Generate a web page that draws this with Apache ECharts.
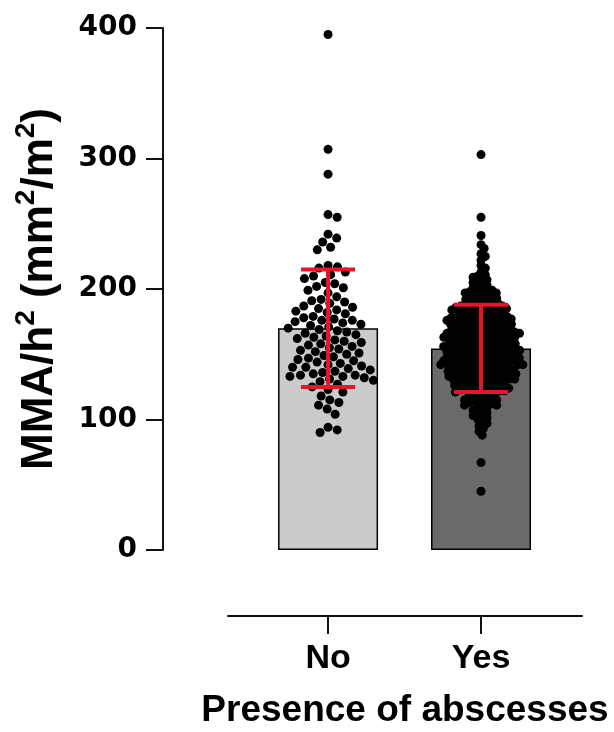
<!DOCTYPE html>
<html lang="en">
<head>
<meta charset="UTF-8">
<title>MMA/h2 by presence of abscesses</title>
<script src="https://cdn.jsdelivr.net/npm/echarts@6/dist/echarts.min.js"></script>
<style>html,body{margin:0;padding:0;background:#fff;}</style>
</head>
<body>
<div id="main" style="width:614px;height:732px;"></div>
<script>
// values
var categories = ['No', 'Yes'];
var barMeans = [170, 154.5];
var barSD = [45, 33.5];
var barColors = ['#cbcbcb', '#6a6a6a'];

var noValues = [
    395, 307, 288, 257, 255, 242, 239, 236, 232, 230,
    218, 217, 216, 213, 211, 210,
    208, 205, 204, 202, 201,
    199, 197, 194, 192, 191, 190,
    189, 187, 186, 185, 184, 183, 182, 181,
    179, 178, 177, 176, 176, 175, 174, 173, 172, 171, 170,
    169, 168, 167, 166, 165, 164, 163, 162, 161, 160,
    159, 158, 157, 156, 155, 154, 153, 152, 151, 150,
    149, 148, 147, 146, 145, 144, 143, 142, 141, 140, 140,
    139, 138, 137, 136, 135, 134, 134, 133, 133, 132, 131, 130,
    129, 127, 125, 123, 121,
    118, 115, 113, 111,
    108, 104,
    94, 92, 90
];

var yesValues = [
    303, 255, 241, 234, 231, 227, 225, 222, 218, 216, 213, 211, 210,
    209, 208, 207, 206, 205, 204, 203, 202, 201, 200,
    199, 199, 198, 198, 197, 197, 196, 195, 195, 194, 194, 193, 193, 192, 192, 191, 191, 190,
    189, 189, 189, 188, 188, 187, 187, 187, 186, 186, 186, 185, 185, 185, 184, 184, 183, 183, 183,
    182, 182, 181, 181, 181, 180, 180,
    179, 179, 179, 179, 178, 178, 178, 177, 177, 177, 177, 176, 176, 176, 175, 175, 175, 175,
    174, 174, 174, 173, 173, 173, 173, 172, 172, 172, 171, 171, 171, 170, 170, 170,
    169, 169, 169, 169, 168, 168, 168, 168, 167, 167, 167, 167, 166, 166, 166, 166,
    165, 165, 165, 165, 164, 164, 164, 164, 163, 163, 163, 163, 162, 162, 162, 162,
    161, 161, 161, 160, 160, 160,
    159, 159, 159, 159, 158, 158, 158, 158, 157, 157, 157, 157, 156, 156, 156, 156,
    155, 155, 155, 155, 154, 154, 154, 154, 153, 153, 153, 153, 152, 152, 152, 152,
    151, 151, 151, 151, 150, 150, 150, 150,
    149, 149, 149, 149, 148, 148, 148, 148, 147, 147, 147, 147, 146, 146, 146, 146,
    145, 145, 145, 145, 145, 144, 144, 144, 144, 143, 143, 143, 143,
    142, 142, 142, 142, 142, 141, 141, 141, 141, 140, 140, 140, 140,
    139, 139, 139, 138, 138, 138, 138, 137, 137, 137, 136, 136, 136, 136,
    135, 135, 135, 135, 134, 134, 134, 134, 133, 133, 133, 132, 132, 132, 132,
    131, 131, 131, 131, 130, 130, 130,
    129, 129, 128, 128, 128, 127, 127, 127, 126, 126, 126, 125, 125, 125,
    124, 124, 124, 123, 123, 123, 122, 122, 122, 121, 121, 121, 120, 120,
    119, 118, 118, 117, 117, 116, 116, 115, 115, 114, 114, 113, 113, 112, 112, 111, 111, 110,
    109, 108, 107, 106, 105, 104, 103, 102, 101, 100,
    98, 97, 95, 93, 91,
    88, 67, 45
];

var FONT = '"Liberation Sans", Arial, sans-serif';
var RED = '#e8142b';
var INK = '#111';

var chart = echarts.init(document.getElementById('main'));

var option = {
    animation: false,
    backgroundColor: '#fff',
    grid: {left: 228, right: 32, top: 28, bottom: 182, outerBoundsMode: 'none'},
    xAxis: {
        type: 'value',
        min: 0.346,
        max: 2.66,
        offset: 66,
        splitLine: {show: false},
        axisLine: {show: true, onZero: false, lineStyle: {color: INK, width: 2}},
        axisTick: {show: true, customValues: [1, 2], length: 18, lineStyle: {color: INK, width: 2}},
        axisLabel: {
            customValues: [1, 2],
            margin: 26,
            formatter: function (v) { return categories[Math.round(v) - 1]; },
            color: '#000', fontSize: 34, fontWeight: 'bold', fontFamily: FONT
        },
        name: 'Presence of abscesses',
        nameLocation: 'middle',
        nameGap: 76,
        nameTextStyle: {color: '#000', fontSize: 37, fontWeight: 'bold', fontFamily: FONT}
    },
    yAxis: {
        type: 'value',
        min: 0,
        max: 400,
        interval: 100,
        offset: 65,
        splitLine: {show: false},
        axisLine: {show: true, onZero: false, lineStyle: {color: INK, width: 2}},
        axisTick: {show: true, length: 17, lineStyle: {color: INK, width: 2}},
        axisLabel: {
            margin: 26,
            color: '#000', fontSize: 28, fontWeight: 'bold', fontFamily: '"DejaVu Sans", sans-serif'
        },
        name: '{t|MMA/h}{s|2}{t| (mm}{s|2}{t|/m}{s|2}{t|)}',
        nameLocation: 'middle',
        nameGap: 101,
        nameTextStyle: {
            color: '#000', fontSize: 44, fontWeight: 'bold', fontFamily: FONT,
            rich: {
                t: {fontSize: 44, fontWeight: 'bold', fontFamily: FONT, lineHeight: 50, verticalAlign: 'bottom'},
                s: {fontSize: 28, fontWeight: 'bold', fontFamily: FONT, lineHeight: 30, verticalAlign: 'top'}
            }
        }
    },
    series: [
        {
            type: 'bar',
            barWidth: 100,
            z: 2,
            data: barMeans.map(function (m, i) {
                return {value: [i + 1, m], itemStyle: {color: barColors[i], borderColor: '#000', borderWidth: 1.5}};
            })
        }
    ]
};
chart.setOption(option);

// beeswarm layout in pixel space, then back to data space
function swarm(values, xCat, diam) {
    var sorted = values.slice().sort(function (a, b) { return b - a; });
    var cx = chart.convertToPixel({gridIndex: 0}, [xCat, 0])[0];
    var placed = [];
    var out = [];
    sorted.forEach(function (v) {
        var py = chart.convertToPixel({gridIndex: 0}, [xCat, v])[1];
        var cands = [0];
        placed.forEach(function (p) {
            var dy = Math.abs(p.y - py);
            if (dy < diam) {
                var dx = Math.sqrt(diam * diam - dy * dy);
                cands.push(p.x + dx, p.x - dx);
            }
        });
        cands.sort(function (a, b) { return Math.abs(a) - Math.abs(b); });
        var chosen = 0;
        for (var i = 0; i < cands.length; i++) {
            var c = cands[i], ok = true;
            for (var j = 0; j < placed.length; j++) {
                var ddx = placed[j].x - c, ddy = placed[j].y - py;
                if (ddx * ddx + ddy * ddy < diam * diam - 0.01) { ok = false; break; }
            }
            if (ok) { chosen = c; break; }
        }
        placed.push({x: chosen, y: py});
        var xv = chart.convertFromPixel({gridIndex: 0}, [cx + chosen, py])[0];
        out.push([xv, v]);
    });
    return out;
}

var noPts = swarm(noValues, 1, 9.5);
var yesPts = swarm(yesValues, 2, 5.0);

chart.setOption({
    series: [
        option.series[0],
        {
            type: 'scatter',
            symbolSize: 9,
            z: 3,
            itemStyle: {color: '#000', opacity: 1},
            data: noPts.concat(yesPts)
        },
        {
            type: 'custom',
            z: 4,
            data: barMeans.map(function (m, i) { return [i + 1, m, barSD[i]]; }),
            renderItem: function (params, api) {
                var x = api.value(0), m = api.value(1), s = api.value(2);
                var top = api.coord([x, m + s]);
                var bot = api.coord([x, m - s]);
                var hw = 27;
                var st = {stroke: RED, lineWidth: 4};
                return {
                    type: 'group',
                    children: [
                        {type: 'line', shape: {x1: top[0], y1: top[1], x2: bot[0], y2: bot[1]}, style: st},
                        {type: 'line', shape: {x1: top[0] - hw, y1: top[1], x2: top[0] + hw, y2: top[1]}, style: st},
                        {type: 'line', shape: {x1: bot[0] - hw, y1: bot[1], x2: bot[0] + hw, y2: bot[1]}, style: st}
                    ]
                };
            }
        }
    ]
});
</script>
</body>
</html>
